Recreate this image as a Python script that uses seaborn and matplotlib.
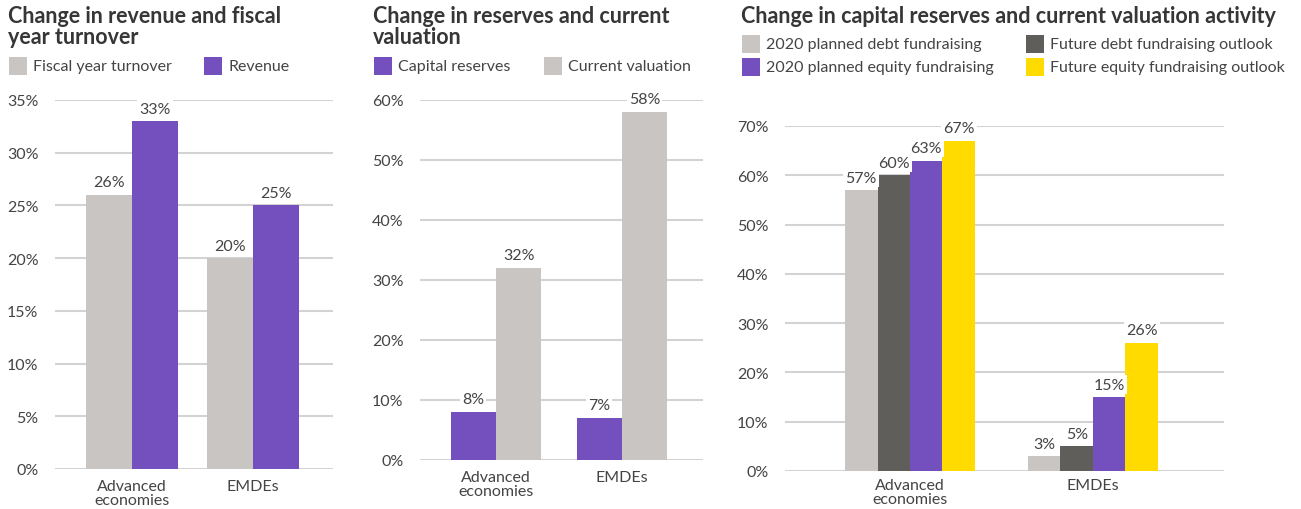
import matplotlib
matplotlib.use("Agg")
import matplotlib.pyplot as plt
from matplotlib.patches import Rectangle
from matplotlib.ticker import FuncFormatter, MultipleLocator
import seaborn as sns
import pandas as pd

sns.set_theme(style="white")
plt.rcParams["font.family"] = ["Lato", "DejaVu Sans"]

# ---- data ----
regions = ["Advanced\neconomies", "EMDEs"]

turnover_series = ["Fiscal year turnover", "Revenue"]
turnover_values = [[26, 20], [33, 25]]

reserves_series = ["Capital reserves", "Current valuation"]
reserves_values = [[8, 7], [32, 58]]

activity_series = ["2020 planned debt fundraising", "Future debt fundraising outlook",
                   "2020 planned equity fundraising", "Future equity fundraising outlook"]
activity_values = [[57, 3], [60, 5], [63, 15], [67, 26]]

# ---- styling ----
LIGHT = "#C8C5C2"
PURPLE = "#7450BE"
DARK = "#5F5E5B"
YELLOW = "#FFDB00"
TEXT = "#444444"
TITLE = "#363636"
GRID = "#D3D3D3"

W, H = 1301, 510
fig = plt.figure(figsize=(W / 100, H / 100), dpi=100)


def frame(series, values):
    rows = []
    for s, vals in zip(series, values):
        for r, v in zip(regions, vals):
            rows.append({"region": r, "series": s, "value": v})
    return pd.DataFrame(rows)


def axes_px(x0, x1, ytop, ybot):
    return fig.add_axes([x0 / W, (H - ybot) / H, (x1 - x0) / W, (ybot - ytop) / H])


def panel(ax, series, values, colors, width, ymax, step, xlim, xpad):
    df = frame(series, values)
    sns.barplot(data=df, x="region", y="value", hue="series", hue_order=series,
                palette=colors, width=width, gap=0, ax=ax, legend=False,
                saturation=1, errorbar=None, linewidth=0)
    ax.set_ylim(0, ymax)
    ax.set_xlim(*xlim)
    ax.yaxis.set_major_locator(MultipleLocator(step))
    ax.yaxis.set_major_formatter(FuncFormatter(lambda v, _: f"{v:.0f}%"))
    ax.grid(axis="y", color=GRID, linewidth=1.5, zorder=0)
    ax.set_axisbelow(True)
    for sp in ax.spines.values():
        sp.set_visible(False)
    ax.set_xlabel("")
    ax.set_ylabel("")
    ax.tick_params(axis="both", length=0, labelsize=11.5, labelcolor=TEXT)
    ax.tick_params(axis="y", pad=12)
    ax.tick_params(axis="x", pad=xpad)
    for lbl in ax.get_xticklabels():
        lbl.set_linespacing(1.0)
    for cont in ax.containers:
        ax.bar_label(cont, labels=[f"{b.get_height():.0f}%" for b in cont],
                     padding=4, fontsize=11.5, color=TEXT, clip_on=False,
                     bbox=dict(facecolor="white", edgecolor="none", pad=1.5))


def title(x, y, text):
    fig.text(x / W, 1 - y / H, text, fontsize=15.5, fontweight="bold",
             color=TITLE, va="top", ha="left", linespacing=1.0)


def legend_item(x, y, color, text):
    fig.patches.append(Rectangle((x / W, 1 - (y + 18) / H), 18 / W, 18 / H,
                                 transform=fig.transFigure, facecolor=color,
                                 edgecolor="none"))
    fig.text((x + 24) / W, 1 - (y + 9) / H, text, fontsize=11.5, color=TEXT,
             va="center", ha="left")


# panel 1
ax1 = axes_px(55, 333, 101, 470)
panel(ax1, turnover_series, turnover_values, [LIGHT, PURPLE], 0.76, 35, 5,
      (-0.636, 1.661), 7)
title(8, 6, "Change in revenue and fiscal\nyear turnover")
legend_item(9, 58, LIGHT, turnover_series[0])
legend_item(204, 58, PURPLE, turnover_series[1])

# panel 2
ax2 = axes_px(420, 703, 101, 461)
panel(ax2, reserves_series, reserves_values, [PURPLE, LIGHT], 0.72, 60, 10,
      (-0.603, 1.643), 7)
title(373, 6, "Change in reserves and current\nvaluation")
legend_item(374, 58, PURPLE, reserves_series[0])
legend_item(544, 58, LIGHT, reserves_series[1])

# panel 3
ax3 = axes_px(785, 1224, 127, 472)
panel(ax3, activity_series, activity_values, [LIGHT, DARK, PURPLE, YELLOW], 0.71, 70, 10,
      (-0.683, 1.716), 5)
title(741, 6, "Change in capital reserves and current valuation activity")
legend_item(742, 36, LIGHT, activity_series[0])
legend_item(1026, 36, DARK, activity_series[1])
legend_item(742, 59, PURPLE, activity_series[2])
legend_item(1026, 59, YELLOW, activity_series[3])

fig.savefig("out.png", dpi=100, facecolor="white")
